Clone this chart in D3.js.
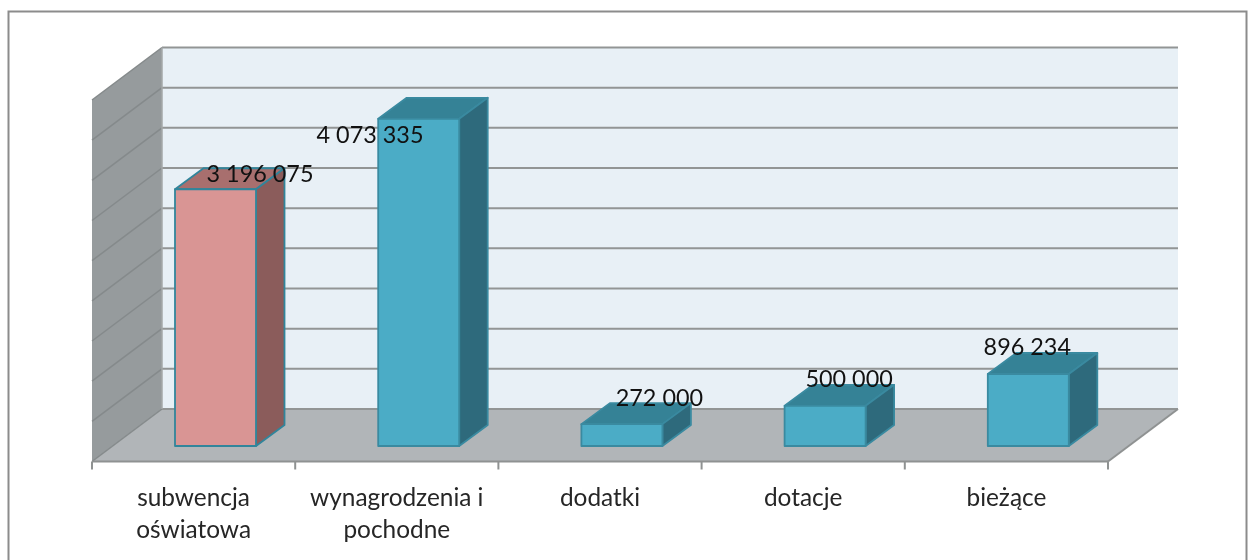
<!DOCTYPE html>
<html><head><meta charset="utf-8">
<script src="https://cdn.jsdelivr.net/npm/d3@7"></script>
<style>html,body{margin:0;padding:0;background:#fff;overflow:hidden}svg{filter:blur(0.45px);display:block}</style>
</head><body><div id="chart"></div>
<script>
const categories = ["subwencja oświatowa", "wynagrodzenia i pochodne", "dodatki", "dotacje", "bieżące"];
const categoryLines = [["subwencja","oświatowa"],["wynagrodzenia i","pochodne"],["dodatki"],["dotacje"],["bieżące"]];
const values = [3196075, 4073335, 272000, 500000, 896234];
const valueLabels = ["3 196 075","4 073 335","272 000","500 000","896 234"];
const yTicks = d3.range(0, 4500001, 500000);
const faceColors = ["#d99594","#4bacc6","#4bacc6","#4bacc6","#4bacc6"];
const topColors = ["#a86f6e","#358296","#358296","#358296","#358296"];
const sideColors = ["#8b5c5b","#2e6a7c","#2e6a7c","#2e6a7c","#2e6a7c"];
const edgeColors = ["#31859b","#3a8aa0","#3a8aa0","#3a8aa0","#3a8aa0"];

const W = 1255, H = 560;
const svg = d3.select("#chart").append("svg").attr("width", W).attr("height", H);
const font = "Lato, 'Open Sans', sans-serif";
const dx = 70, dy = -52.5;
const bdx = 28.5, bdy = -21;
const x = d3.scaleBand().domain(categories).range([92, 1108]);
const y = d3.scaleLinear().domain([0, 4500000]).range([461.5, 100]);
const barBase = 446, barInset = 83, barW = 81;

svg.append("rect").attr("x",8.5).attr("y",11.5).attr("width",1238).attr("height",570)
  .attr("fill","#fff").attr("stroke","#8c8c8c").attr("stroke-width",2);

const x0 = x.range()[0], x1 = x.range()[1], y0 = y(0), yT = y(4500000);
const poly = (pts, fill, stroke, sw) => svg.append("polygon")
  .attr("points", pts.map(p=>p.join(",")).join(" ")).attr("fill",fill)
  .attr("stroke",stroke||"none").attr("stroke-width",sw||0).attr("stroke-linejoin","round");

poly([[x0+dx,yT+dy],[x1+dx,yT+dy],[x1+dx,y0+dy],[x0+dx,y0+dy]], "#e8f0f6");
poly([[x0,yT],[x0+dx,yT+dy],[x0+dx,y0+dy],[x0,y0]], "#969b9d");
poly([[x0,y0],[x0+dx,y0+dy],[x1+dx,y0+dy],[x1,y0]], "#b1b5b8");

yTicks.forEach(t=>{
  const g = y(t);
  svg.append("line").attr("x1",x0).attr("y1",g).attr("x2",x0+dx).attr("y2",g+dy)
    .attr("stroke","#858a8b").attr("stroke-width",1.5);
  svg.append("line").attr("x1",x0+dx).attr("y1",g+dy).attr("x2",x1+dx).attr("y2",g+dy)
    .attr("stroke","#929595").attr("stroke-width",2);
});
svg.append("line").attr("x1",x0+dx).attr("x2",x0+dx).attr("y1",yT+dy).attr("y2",y0+dy).attr("stroke","#a5a8a9").attr("stroke-width",1.5);
svg.append("line").attr("x1",x1).attr("x2",x1+dx).attr("y1",y0).attr("y2",y0+dy).attr("stroke","#8f9292").attr("stroke-width",2);
svg.append("line").attr("x1",x0).attr("x2",x1).attr("y1",y0).attr("y2",y0).attr("stroke","#8f9292").attr("stroke-width",2);

const bounds = categories.map(c=>x(c)).concat([x1]);
bounds.forEach(b=>svg.append("line").attr("x1",b).attr("x2",b).attr("y1",y0).attr("y2",y0+8)
  .attr("stroke","#8f9292").attr("stroke-width",2));

categories.forEach((c,i)=>{
  const L = x(c)+barInset, R = L+barW, h = y0-y(values[i]), T = barBase-h, B = barBase;
  const st = edgeColors[i];
  poly([[L,T],[L+bdx,T+bdy],[R+bdx,T+bdy],[R,T]], topColors[i], st, 1.8);
  poly([[R,T],[R+bdx,T+bdy],[R+bdx,B+bdy],[R,B]], sideColors[i], st, 1.8);
  poly([[L,T],[R,T],[R,B],[L,B]], faceColors[i], st, 1.8);
});

const labelDx = [44.5, -48.7, 37.5, 24, -1];
const labelDy = [-7, 24, -18, -19, -19];
valueLabels.forEach((t,i)=>{
  const cx = x(categories[i])+barInset+barW/2, T = barBase-(y0-y(values[i]));
  svg.append("text").text(t).attr("x",cx+labelDx[i]).attr("y",T+labelDy[i])
    .attr("text-anchor","middle").attr("font-family",font).attr("font-size",23.4).attr("fill","#111");
});

categoryLines.forEach((ls,i)=>{
  const cx = x(categories[i]) + x.bandwidth()/2;
  ls.forEach((l,j)=>svg.append("text").text(l).attr("x",cx).attr("y",505.5+j*32)
    .attr("text-anchor","middle").attr("font-family",font).attr("font-size",24.4).attr("fill","#262626"));
});
</script></body></html>
